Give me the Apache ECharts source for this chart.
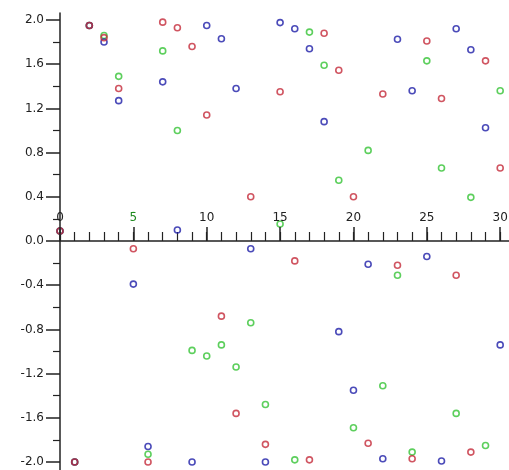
<!DOCTYPE html>
<html>
<head>
<meta charset="utf-8">
<script src="https://cdn.jsdelivr.net/npm/echarts@6/dist/echarts.min.js"></script>
<style>html,body{margin:0;padding:0;background:#fff;}#c{width:509px;height:470px;}</style>
</head>
<body>
<div id="c"></div>
<script>
const xValues = [0,1,2,3,4,5,6,7,8,9,10,11,12,13,14,15,16,17,18,19,20,21,22,23,24,25,26,27,28,29,30];
const redValues = [0.09,-2.0,1.95,1.84,1.38,-0.07,-2.0,1.98,1.93,1.76,1.14,-0.68,-1.56,0.40,-1.84,1.35,-0.18,-1.98,1.88,1.545,0.40,-1.83,1.33,-0.22,-1.97,1.81,1.29,-0.31,-1.91,1.63,0.66];
const greenValues = [0.09,-2.0,1.95,1.86,1.49,0.23,-1.93,1.72,1.0,-0.99,-1.04,-0.94,-1.14,-0.74,-1.48,0.154,-1.98,1.89,1.59,0.55,-1.69,0.82,-1.31,-0.31,-1.91,1.63,0.66,-1.56,0.395,-1.85,1.36];
const blueValues = [0.09,-2.0,1.95,1.80,1.27,-0.39,-1.86,1.44,0.10,-2.0,1.95,1.83,1.38,-0.07,-2.0,1.976,1.92,1.74,1.08,-0.82,-1.35,-0.21,-1.97,1.825,1.36,-0.14,-1.99,1.92,1.73,1.025,-0.94];
const xLabelValues = [0,5,10,15,20,25,30];
const xMinorTickValues = [0,1,2,3,4,5,6,7,8,9,10,11,12,13,14,15,16,17,18,19,20,21,22,23,24,25,26,27,28,29,30];
const yLabelValues = [-2.0,-1.6,-1.2,-0.8,-0.4,0.0,0.4,0.8,1.2,1.6,2.0];
const yMinorTickValues = [-1.8,-1.4,-1.0,-0.6,-0.2,0.2,0.6,1.0,1.4,1.8];

const Y_MIN = -2.072, Y_MAX = 2.063, GRID_TOP = 13, GRID_H = 470 - GRID_TOP;
const zeroOffset = -(Y_MAX / (Y_MAX - Y_MIN)) * GRID_H; // place x axis at y = 0

const axisColor = '#222';
const font = 'DejaVu Sans';
const pairs = vals => xValues.map((x, i) => [x, vals[i]]);
const mk = (name, vals, color) => ({
  name, type: 'scatter', data: pairs(vals), symbol: 'circle', symbolSize: 6,
  itemStyle: { color: 'rgba(0,0,0,0)', borderColor: color, borderWidth: 1.6 },
  emphasis: { disabled: true }, z: 2
});

const chart = echarts.init(document.getElementById('c'));
chart.setOption({
  animation: false,
  backgroundColor: '#fff',
  grid: { left: 60, right: 0, top: GRID_TOP, bottom: 0, containLabel: false, outerBoundsMode: 'none' },
  xAxis: [
    { type: 'value', min: 0, max: 30.6, position: 'top', offset: zeroOffset, z: 5,
      axisLine: { onZero: false, lineStyle: { color: axisColor, width: 1.5 } },
      axisTick: { inside: false, length: 14, customValues: xLabelValues, lineStyle: { color: axisColor, width: 1.5 } },
      axisLabel: { inside: false, margin: 17, customValues: xLabelValues, color: axisColor, fontFamily: font, fontSize: 12,
        formatter: v => v === 5 ? '{g|5}' : String(v),
        rich: { g: { color: '#1f8a1f', fontFamily: font, fontSize: 12, backgroundColor: '#fff', padding: [0,1,0,1] } } },
      splitLine: { show: false } },
    { type: 'value', min: 0, max: 30.6, position: 'top', offset: zeroOffset,
      axisLine: { show: false, onZero: false },
      axisTick: { inside: false, length: 9, customValues: xMinorTickValues, lineStyle: { color: axisColor, width: 1.2 } },
      axisLabel: { show: false }, splitLine: { show: false } }
  ],
  yAxis: [
    { type: 'value', min: Y_MIN, max: Y_MAX, position: 'left',
      axisLine: { onZero: false, lineStyle: { color: axisColor, width: 1.5 } },
      axisTick: { length: 14, customValues: yLabelValues, lineStyle: { color: axisColor, width: 1.5 } },
      axisLabel: { margin: 16, customValues: yLabelValues, color: axisColor, fontFamily: font, fontSize: 12,
        formatter: v => v.toFixed(1) },
      splitLine: { show: false } },
    { type: 'value', min: Y_MIN, max: Y_MAX, position: 'left',
      axisLine: { show: false, onZero: false },
      axisTick: { length: 7, customValues: yMinorTickValues, lineStyle: { color: axisColor, width: 1.2 } },
      axisLabel: { show: false }, splitLine: { show: false } }
  ],
  series: [
    mk('green', greenValues, '#35c335'),
    mk('blue', blueValues, '#1e1ea8'),
    mk('red', redValues, '#c42a3a')
  ]
});
</script>
</body>
</html>
